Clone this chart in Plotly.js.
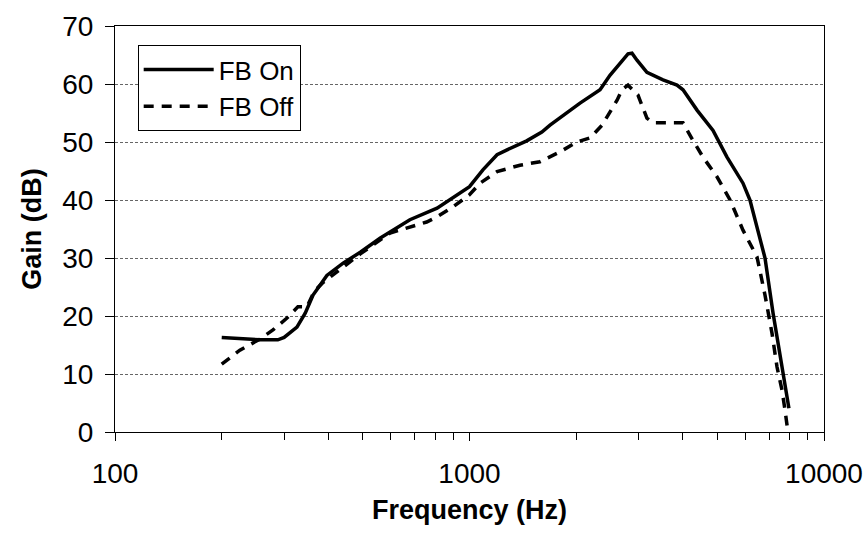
<!DOCTYPE html>
<html>
<head>
<meta charset="utf-8">
<script src="https://cdn.plot.ly/plotly-3.0.1.min.js"></script>
<style>html,body{margin:0;padding:0;background:#fff;}#chart{width:867px;height:538px;}</style>
</head>
<body>
<div id="chart"></div>
<script>
const onFreq = [200,256,288,300,326,344,362,396,440,492,559,679,810,1000,1091,1196,1272,1450,1600,1687,2050,2335,2490,2693,2800,2873,2968,3166,3514,3848,4002,4383,4863,5326,5908,6182,6601,6817,7182,7664,7962];
const onGain = [16.3,15.9,15.9,16.3,18.1,20.5,23.6,27,29.1,31,33.4,36.6,38.6,42.3,45.2,47.8,48.6,50.2,51.7,52.9,56.7,59,61.5,64.1,65.2,65.3,64.1,62,60.7,59.8,59,55.5,52,47.4,42.9,40,33.6,30,20.5,10.7,4.1];
const offFreq = [200,225,256,279,305,328,348,365,385,440,492,597,679,757,810,898,1000,1071,1196,1388,1580,1800,2010,2188,2365,2460,2608,2693,2800,2987,3166,3296,4002,4268,4556,4990,5433,5908,6471,6817,7135,7370,7613,7762,7900];
const offGain = [11.7,14.1,16,17.6,19.6,21.6,21.6,24.3,25.7,28.5,30.7,34.3,35.4,36.2,37.1,38.8,40.9,42.9,44.9,46,46.6,48.3,50,50.7,52.9,54.7,57.2,59,59.8,58.1,54.1,53.3,53.3,50.3,47.4,44,40,34.8,30.2,23.6,17,11.2,7.2,3.8,0.3];
const seriesNames = ["FB On","FB Off"];
const xMajorTicks = [100,1000,10000];
const xMinorTicks = [200,300,400,500,600,700,800,900,2000,3000,4000,5000,6000,7000,8000,9000];
const yTicks = [0,10,20,30,40,50,60,70];

const traces = [
  {x: onFreq, y: onGain, name: seriesNames[0], mode: 'lines', line: {color: '#000', width: 3.5}},
  {x: offFreq, y: offGain, name: seriesNames[1], mode: 'lines', line: {color: '#000', width: 3.5, dash: '10px,8px'}}
];
const font = "'Liberation Sans', Arial, sans-serif";
const layout = {
  width: 867, height: 538,
  margin: {l: 115, r: 43, t: 26, b: 106},
  paper_bgcolor: '#fff', plot_bgcolor: '#fff',
  font: {family: font, color: '#000', size: 28},
  showlegend: true,
  legend: {x: 0.032, y: 0.953, xanchor: 'left', yanchor: 'top', bgcolor: '#fff', bordercolor: '#000', borderwidth: 1, font: {size: 26, family: font}, itemwidth: 70, tracegroupgap: 0},
  xaxis: {
    type: 'log', range: [2, 4],
    tickmode: 'array', tickvals: xMajorTicks, ticktext: xMajorTicks.map(String),
    ticks: 'outside', ticklen: 8, tickcolor: '#000', tickwidth: 1,
    showline: true, linecolor: '#000', linewidth: 1, mirror: true,
    showgrid: false, zeroline: false,
    tickfont: {size: 28, family: font}, ticklabelstandoff: 8,
    minor: {tickmode: 'array', tickvals: xMinorTicks, ticks: 'outside', ticklen: 7, tickcolor: '#000', showgrid: false},
    title: {text: '<b>Frequency (Hz)</b>', font: {size: 27, family: font}, standoff: 12}
  },
  yaxis: {
    range: [0, 70], tickmode: 'array', tickvals: yTicks,
    ticks: 'outside', ticklen: 9, tickcolor: '#000', tickwidth: 1,
    showline: true, linecolor: '#000', linewidth: 1, mirror: true,
    showgrid: true, gridcolor: '#666', gridwidth: 1, griddash: '3px,2px',
    zeroline: false,
    tickfont: {size: 28, family: font}, ticklabelstandoff: 6,
    title: {text: '<b>Gain (dB)</b>', font: {size: 27, family: font}, standoff: 12}
  }
};
Plotly.newPlot('chart', traces, layout, {displayModeBar: false, staticPlot: true});
</script>
</body>
</html>
